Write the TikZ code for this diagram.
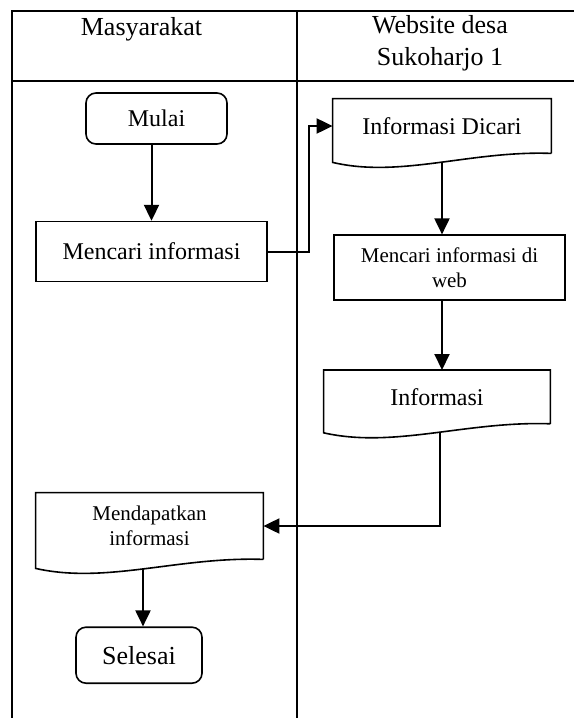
\documentclass[tikz,border=0pt]{standalone}
\usepackage{fontspec}
\setmainfont{Liberation Serif}
\usetikzlibrary{arrows.meta, positioning, calc}

\begin{document}
\begin{tikzpicture}[x=0.5pt, y=-0.5pt]

\tikzset{
  lane/.style={line width=1pt, black},
  lanehead/.style={font=\fontsize{13}{16}\selectfont, align=center},
  terminal/.style={rectangle, rounded corners=5pt, draw=black, line width=0.8pt,
    fill=white, text centered, font=\fontsize{12}{14}\selectfont},
  prosesbox/.style={rectangle, draw=black, line width=0.8pt, fill=white,
    text centered, font=\fontsize{12}{14}\selectfont},
  docbox/.style={rectangle, draw=none, align=center,
    font=\fontsize{12}{14}\selectfont},
  docline/.style={draw=black, line width=0.8pt, line join=miter},
  arrow/.style={-{Triangle[length=8pt,width=7.5pt]}, line width=1pt, black}
}

\useasboundingbox (0,0) rectangle (574,718);

% swimlanes
\draw[lane] (12,718) -- (12,11) -- (574,11);
\draw[lane] (12,81) -- (574,81);
\draw[lane] (297,11) -- (297,718);
\node[lanehead] (hmasy) at (141.5,29) {Masyarakat};
\node[lanehead] (hweb) at (440,43) {Website desa\\Sukoharjo 1};

% Masyarakat
\node[terminal, minimum width=70.5pt, minimum height=25.5pt] (mulai)
  at (156.5,118.5) {Mulai};
\node[prosesbox, below=38pt of mulai, xshift=-2.5pt,
  minimum width=115.5pt, minimum height=30pt] (cari) {Mencari informasi};

% Website desa
\node[docbox, minimum width=109pt, minimum height=27pt] (dicari)
  at (442,126) {Informasi Dicari};
\node[prosesbox, below=40.5pt of dicari, xshift=3.75pt,
  minimum width=115.5pt, minimum height=32.5pt,
  font=\fontsize{10.5}{12.5}\selectfont, align=center] (web)
  {Mencari informasi di\\web};
\node[docbox, below=34.5pt of web, xshift=-6.25pt,
  minimum width=113pt, minimum height=26.5pt] (info) {Informasi};

% kembali ke Masyarakat
\node[docbox, minimum width=113.5pt, minimum height=33pt,
  font=\fontsize{10.5}{12.5}\selectfont] (dapat)
  at (149.5,526) {Mendapatkan\\informasi};
\node[terminal, below=33.5pt of dapat, xshift=-5.25pt,
  minimum width=63pt, minimum height=28pt,
  font=\fontsize{13}{15}\selectfont] (selesai) {Selesai};

% document outlines
\foreach \d in {dicari, info, dapat} {
  \draw[docline] (\d.south east) -- (\d.north east) -- (\d.north west)
    -- ([yshift=-4.5pt]\d.south west)
    .. controls ($(\d.south west)!0.31!(\d.south east)+(0,-12.5pt)$)
    and ($(\d.south west)!0.63!(\d.south east)+(0,1.5pt)$) .. (\d.south east);
}

\draw[arrow] (cari.north |- mulai.south) -- (cari.north);
\draw[arrow] (cari.east) -- ++(20.5pt,0) |- (dicari.west);
\draw[arrow] ([yshift=-4.7pt]dicari.south) -- (dicari.south |- web.north);
\draw[arrow] (dicari.south |- web.south) -- (dicari.south |- info.north);
\draw[arrow] ([xshift=1.5pt,yshift=-4.7pt]info.south) |- (dapat.east);
\draw[arrow] ([xshift=-3.25pt,yshift=-4.7pt]dapat.south)
  -- ([xshift=-3.25pt]dapat.south |- selesai.north);

\end{tikzpicture}
\end{document}
